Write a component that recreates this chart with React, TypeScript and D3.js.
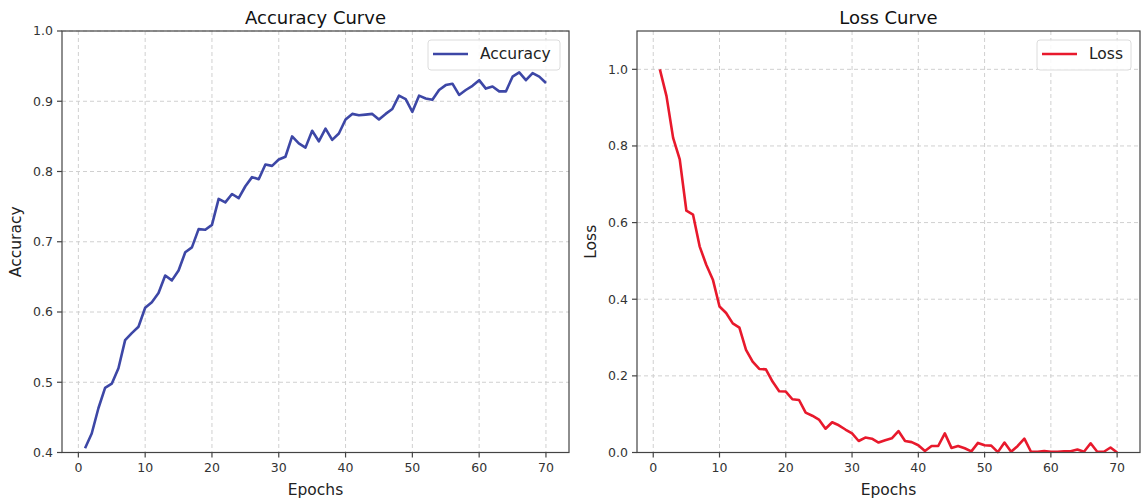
import React from 'react';
import * as d3 from 'd3';

// values, one per epoch (1..70)
const epochs = d3.range(1, 71);

const accuracy = [
  0.406, 0.427, 0.463, 0.492, 0.498, 0.52, 0.56, 0.57, 0.579, 0.606,
  0.614, 0.627, 0.652, 0.645, 0.659, 0.685, 0.692, 0.718, 0.717, 0.724,
  0.761, 0.756, 0.768, 0.762, 0.779, 0.792, 0.789, 0.81, 0.808, 0.817,
  0.821, 0.85, 0.84, 0.834, 0.858, 0.843, 0.861, 0.845, 0.854, 0.874,
  0.882, 0.88, 0.881, 0.882, 0.874, 0.882, 0.889, 0.908, 0.903, 0.885,
  0.908, 0.904, 0.902, 0.916, 0.923, 0.925, 0.909, 0.916, 0.922, 0.93,
  0.918, 0.921, 0.914, 0.914, 0.935, 0.941, 0.93, 0.94, 0.935, 0.926,
];

const loss = [
  1.0, 0.93, 0.821, 0.765, 0.631, 0.621, 0.538, 0.49, 0.451, 0.381,
  0.364, 0.337, 0.326, 0.268, 0.237, 0.218, 0.217, 0.185, 0.16, 0.159,
  0.139, 0.137, 0.104, 0.096, 0.086, 0.062, 0.079, 0.071, 0.06, 0.05,
  0.03, 0.039, 0.036, 0.026, 0.032, 0.037, 0.056, 0.03, 0.027, 0.019,
  0.004, 0.017, 0.017, 0.05, 0.012, 0.017, 0.011, 0.003, 0.025, 0.019,
  0.018, 0.001, 0.026, 0.002, 0.017, 0.036, 0.002, 0.002, 0.004, 0.002,
  0.002, 0.003, 0.003, 0.008, 0.002, 0.024, 0.002, 0.002, 0.013, 0.0,
];

const xTicks = [0, 10, 20, 30, 40, 50, 60, 70];
const accTicks = [0.4, 0.5, 0.6, 0.7, 0.8, 0.9, 1.0];
const lossTicks = [0.0, 0.2, 0.4, 0.6, 0.8, 1.0];

const FONT = 'DejaVu Sans, sans-serif';
const SPINE = '#444';
const TICK_TEXT = '#333';
const GRID = '#d0d0d0';

interface PanelProps {
  left: number;
  right: number;
  top: number;
  bottom: number;
  values: number[];
  yDomain: [number, number];
  yTicks: number[];
  color: string;
  title: string;
  yLabel: string;
  legend: string;
  legendWidth: number;
}

function Panel({ left, right, top, bottom, values, yDomain, yTicks, color, title, yLabel, legend, legendWidth }: PanelProps) {
  const x = d3.scaleLinear().domain([-2.45, 73.45]).range([left, right]);
  const y = d3.scaleLinear().domain(yDomain).range([bottom, top]);
  const line = d3.line<number>()
    .x((_, i) => x(epochs[i]))
    .y(d => y(d));

  const cx = (left + right) / 2;
  const cy = (top + bottom) / 2;
  const lx = right - 9 - legendWidth;

  return (
    <g>
      {/* grid */}
      {xTicks.map(t => (
        <line key={'gx' + t} x1={x(t)} x2={x(t)} y1={top} y2={bottom}
          stroke={GRID} strokeWidth={1} strokeDasharray="4,3" />
      ))}
      {yTicks.map(t => (
        <line key={'gy' + t} x1={left} x2={right} y1={y(t)} y2={y(t)}
          stroke={GRID} strokeWidth={1} strokeDasharray="4,3" />
      ))}

      <path d={line(values) ?? ''} fill="none" stroke={color} strokeWidth={2.6}
        strokeLinejoin="round" strokeLinecap="butt" />

      {/* spines */}
      <rect x={left} y={top} width={right - left} height={bottom - top}
        fill="none" stroke={SPINE} strokeWidth={1.2} />

      {/* ticks */}
      {xTicks.map(t => (
        <g key={'tx' + t}>
          <line x1={x(t)} x2={x(t)} y1={bottom} y2={bottom + 5} stroke={SPINE} strokeWidth={1.2} />
          <text x={x(t)} y={bottom + 19} textAnchor="middle" fontSize={12.5}
            fontFamily={FONT} fill={TICK_TEXT}>{t}</text>
        </g>
      ))}
      {yTicks.map(t => (
        <g key={'ty' + t}>
          <line x1={left - 5} x2={left} y1={y(t)} y2={y(t)} stroke={SPINE} strokeWidth={1.2} />
          <text x={left - 9} y={y(t)} dy="0.35em" textAnchor="end" fontSize={12.5}
            fontFamily={FONT} fill={TICK_TEXT}>{t.toFixed(1)}</text>
        </g>
      ))}

      {/* labels */}
      <text x={cx} y={24} textAnchor="middle" fontSize={18} fontFamily={FONT} fill="#111">{title}</text>
      <text x={cx} y={495} textAnchor="middle" fontSize={15.5} fontFamily={FONT} fill="#222">Epochs</text>
      <text transform={`translate(${left - 41},${cy}) rotate(-90)`} textAnchor="middle"
        fontSize={15.5} fontFamily={FONT} fill="#222">{yLabel}</text>

      {/* legend */}
      <rect x={lx} y={top + 9} width={legendWidth} height={30} rx={3}
        fill="#fff" fillOpacity={0.85} stroke="#dcdcdc" strokeWidth={1} />
      <line x1={lx + 5} x2={lx + 40} y1={top + 23} y2={top + 23} stroke={color} strokeWidth={2.6} />
      <text x={lx + 52} y={top + 23} dy="0.35em" fontSize={15.5} fontFamily={FONT} fill="#222">{legend}</text>
    </g>
  );
}

export default function App() {
  return (
    <div style={{ position: 'absolute', left: 0, top: 0 }}>
      <svg width={1144} height={503} style={{ display: 'block', background: '#fff' }}>
        <Panel left={62} right={569} top={31} bottom={452.5}
          values={accuracy} yDomain={[0.4, 1.0]} yTicks={accTicks}
          color="#3d47a6" title="Accuracy Curve" yLabel="Accuracy"
          legend="Accuracy" legendWidth={132} />
        <Panel left={637} right={1140} top={31} bottom={452.5}
          values={loss} yDomain={[0, 1.1]} yTicks={lossTicks}
          color="#e8192c" title="Loss Curve" yLabel="Loss"
          legend="Loss" legendWidth={94} />
      </svg>
    </div>
  );
}
